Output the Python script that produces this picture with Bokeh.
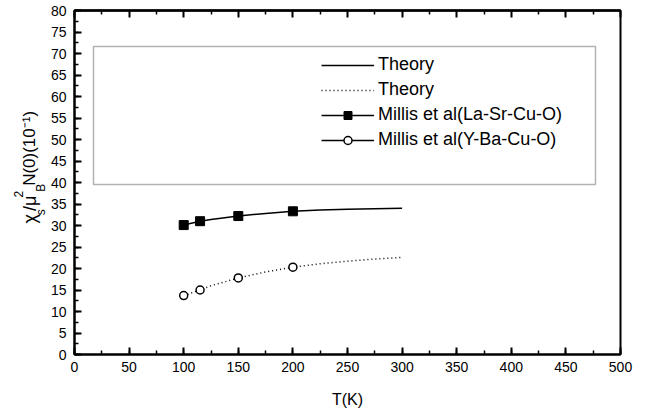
from bokeh.plotting import figure
from bokeh.layouts import row
from bokeh.models import (LinearAxis, SingleIntervalTicker, FixedTicker, Legend, LegendItem,
                          Label, BoxAnnotation, Range1d)
from bokeh.embed import file_html
from bokeh.resources import INLINE

# ---- data ----
T_exp = [100, 115, 150, 200]
chi_lsco = [30.1, 31.0, 32.2, 33.3]
chi_ybco = [13.7, 15.0, 17.8, 20.3]

T_theory = [100, 115, 125, 150, 175, 200, 225, 250, 275, 300]
theory_lsco = [30.1, 31.0, 31.4, 32.2, 32.8, 33.3, 33.6, 33.8, 33.9, 34.0]
theory_ybco = [13.7, 15.0, 16.0, 17.8, 19.2, 20.3, 21.1, 21.7, 22.2, 22.6]

legend_labels = ["Theory", "Theory", "Millis et al(La-Sr-Cu-O)", "Millis et al(Y-Ba-Cu-O)"]
top_major_ticks = list(range(0, 501, 50))
top_minor_ticks = list(range(25, 500, 50))

FONT = "Liberation Sans"
H = 410
LW = 47  # width of the side strip that holds the y-axis title

# ---- main figure ----
p = figure(width=642 - LW, height=H, output_backend="svg", toolbar_location=None,
           x_range=Range1d(0, 500), y_range=Range1d(0, 80),
           min_border_left=74 - LW, min_border_right=22, min_border_top=10, min_border_bottom=53,
           x_axis_label="T(K)")
p.xgrid.visible = False
p.ygrid.visible = False
p.outline_line_color = "black"
p.outline_line_width = 2
p.background_fill_color = "white"
p.border_fill_color = "white"

p.xaxis.ticker = SingleIntervalTicker(interval=50, num_minor_ticks=2)
p.yaxis.ticker = SingleIntervalTicker(interval=5, num_minor_ticks=2)

for ax in (p.xaxis[0], p.yaxis[0]):
    ax.major_tick_in = 7
    ax.major_tick_out = 0
    ax.minor_tick_in = 4
    ax.minor_tick_out = 0
    ax.axis_line_width = 2
    ax.major_tick_line_width = 2
    ax.minor_tick_line_width = 1.5
    ax.major_label_text_font = FONT
    ax.major_label_text_font_size = "14px"
    ax.major_label_text_color = "black"
p.xaxis.major_label_standoff = 7
p.yaxis.major_label_standoff = 8
p.xaxis.axis_label_text_font = FONT
p.xaxis.axis_label_text_font_size = "16px"
p.xaxis.axis_label_text_font_style = "normal"
p.xaxis.axis_label_text_color = "black"
p.xaxis.axis_label_standoff = 16

# top ticks (no labels): long ones and short ones
for ticks, length in ((top_major_ticks, 7), (top_minor_ticks, 4)):
    ax = LinearAxis(ticker=FixedTicker(ticks=[], minor_ticks=ticks))
    ax.major_tick_in = 0
    ax.major_tick_out = 0
    ax.minor_tick_in = length
    ax.minor_tick_out = 0
    ax.minor_tick_line_width = 2 if length == 7 else 1.5
    ax.axis_line_width = 2
    ax.major_label_standoff = 0
    p.add_layout(ax, "above")

# ---- theory curves ----
r_th1 = p.line(T_theory, theory_lsco, line_color="black", line_width=1.5)
r_th2 = p.line(T_theory, theory_ybco, line_color="black", line_width=1.5, line_dash="1 3")

# ---- experimental points ----
r_sq = p.scatter(T_exp, chi_lsco, marker="square", size=9, fill_color="black", line_color="black")
r_ci = p.scatter(T_exp, chi_ybco, marker="circle", size=8, fill_color="white",
                 line_color="black", line_width=1.5)

# ---- legend box ----
box = BoxAnnotation(left=19, right=521, top=308, bottom=170,
                    left_units="screen", right_units="screen",
                    top_units="screen", bottom_units="screen",
                    fill_alpha=0, line_color="black", line_width=1.5)
p.add_layout(box)

legend = Legend(items=[
    LegendItem(label=legend_labels[0], renderers=[r_th1]),
    LegendItem(label=legend_labels[1], renderers=[r_th2]),
    LegendItem(label=legend_labels[2], renderers=[r_th1, r_sq]),
    LegendItem(label=legend_labels[3], renderers=[r_th1, r_ci]),
], location=(247, 204), glyph_width=53, glyph_height=20, label_height=20,
   label_standoff=4, spacing=4, padding=0, margin=0,
   border_line_color=None, background_fill_alpha=0,
   label_text_font=FONT, label_text_font_size="18px", label_text_color="black")
p.add_layout(legend, "center")

# ---- y-axis title in a narrow side strip (pixel coordinates) ----
lab = figure(width=LW, height=H, output_backend="svg", toolbar_location=None,
             x_range=Range1d(0, LW), y_range=Range1d(0, H),
             x_axis_type=None, y_axis_type=None,
             min_border_left=0, min_border_right=0, min_border_top=0, min_border_bottom=0)
lab.outline_line_color = None
lab.xgrid.visible = False
lab.ygrid.visible = False
lab.background_fill_color = "white"
lab.border_fill_color = "white"

pieces = [  # text, kind, font size (px), advance (px)
    ("\u03c7", "main", 18, 10),
    ("s", "sub", 12, 5),
    ("/\u03bc", "main", 18, 16),
    ("2", "sup", 12, 7),
    ("B", "sub", 12, 7),
    ("N(0)(10\u207b\u00b9)", "main", 17, 0),
]
xpos = {"main": 29, "sub": 40.5, "sup": 18}
ypos = H - 254.0
for txt, kind, size, w in pieces:
    lab.add_layout(Label(x=xpos[kind], y=ypos, text=txt, angle=1.5707963, text_font=FONT,
                         text_font_size=f"{size}px",
                         text_align="left", text_baseline="alphabetic", text_color="black"))
    ypos += w

layout = row(lab, p, spacing=0)
open("out.html", "w").write(file_html(layout, INLINE))
